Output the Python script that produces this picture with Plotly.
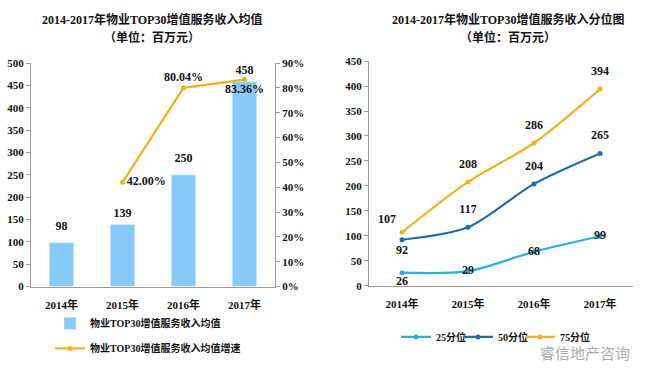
import plotly.graph_objects as go

years = ["2014年", "2015年", "2016年", "2017年"]
avg_income = [98, 139, 250, 458]
avg_growth = [None, 42.00, 80.04, 83.36]
p25 = [26, 29, 68, 99]
p50 = [92, 117, 204, 265]
p75 = [107, 208, 286, 394]

left_title = ["2014-2017年物业TOP30增值服务收入均值", "（单位：百万元）"]
right_title = ["2014-2017年物业TOP30增值服务收入分位图", "（单位：百万元）"]

FONT = "Liberation Serif, Noto Sans CJK SC"
W, H = 650, 371


def px_x(p):
    return p / W


def px_y(p):
    return 1 - p / H


def tfont(size=12):
    return dict(size=size, color="#111", family=FONT, weight="bold")


fig = go.Figure()

# bars
fig.add_trace(go.Bar(
    x=years, y=avg_income, name="物业TOP30增值服务收入均值",
    marker_color="#87CBF8", width=0.4,
    xaxis="x", yaxis="y", legend="legend", legendgroup="a",
))
# bar value labels (invisible marker sets the label offset)
fig.add_trace(go.Scatter(
    x=years, y=avg_income, mode="markers+text",
    marker=dict(size=[14, 6, 14, 6], opacity=0),
    text=[str(v) for v in avg_income], textposition="top center",
    textfont=tfont(12), cliponaxis=False, showlegend=False, hoverinfo="skip",
    xaxis="x", yaxis="y",
))
# growth line
fig.add_trace(go.Scatter(
    x=years, y=avg_growth, name="物业TOP30增值服务收入均值增速",
    mode="lines+markers+text", line=dict(color="#F0B022", width=2.2),
    marker=dict(size=5, color="#F0B022"),
    text=["" if v is None else f"{v:.2f}%" for v in avg_growth],
    textposition=["middle right", "middle right", "top center", "bottom center"],
    textfont=tfont(12), cliponaxis=False, xaxis="x", yaxis="y2",
    legend="legend", legendgroup="b",
))

series = [("25分位", p25, "#2AAFE2",
           ["bottom center", "middle center", "middle center", "middle center"],
           [4, 16, 16, 16], "legend2"),
          ("50分位", p50, "#1E6DAE",
           ["bottom center", "top center", "top center", "top center"],
           [6, 16, 16, 16], "legend3"),
          ("75分位", p75, "#F0B325",
           ["top left", "top center", "top center", "top center"],
           [8, 16, 16, 16], "legend4")]
for name, vals, col, pos, lsize, leg in series:
    fig.add_trace(go.Scatter(
        x=years, y=vals, name=name, mode="lines+markers",
        line=dict(color=col, width=2.2, shape="spline", smoothing=0.8),
        marker=dict(size=5, color=col),
        xaxis="x2", yaxis="y3", legend=leg,
    ))
    fig.add_trace(go.Scatter(
        x=years, y=vals, mode="markers+text",
        marker=dict(size=lsize, opacity=0),
        text=[str(v) for v in vals], textposition=pos,
        textfont=tfont(12), cliponaxis=False, showlegend=False,
        hoverinfo="skip", xaxis="x2", yaxis="y3",
    ))

axis_common = dict(showgrid=False, showline=True, linecolor="#9a9a9a",
                   linewidth=1, ticks="outside", ticklen=4, tickcolor="#9a9a9a",
                   tickfont=tfont(11), zeroline=False)
xaxis_common = {**axis_common, "ticks": "", "ticklabelstandoff": 8}

annotations = []
for lines, cx in ((left_title, 152), (right_title, 508)):
    for txt, cy in zip(lines, (14, 33)):
        annotations.append(dict(
            text=txt, x=px_x(cx), y=px_y(cy), xref="paper", yref="paper",
            xanchor="center", yanchor="middle", showarrow=False,
            font=tfont(12)))
annotations.append(dict(
    text="睿信地产咨询", x=px_x(632), y=px_y(358), xref="paper", yref="paper",
    xanchor="right", yanchor="middle", showarrow=False,
    font=dict(size=15, color="#ababab", family="Noto Sans CJK SC")))


def small_legend(xpx):
    return dict(orientation="h", x=px_x(xpx), y=px_y(327), xanchor="left",
                yanchor="top", itemwidth=30, font=tfont(10),
                bgcolor="rgba(0,0,0,0)")


fig.update_layout(
    width=W, height=H, margin=dict(l=0, r=0, t=0, b=0),
    paper_bgcolor="white", plot_bgcolor="white",
    font=dict(family=FONT, color="#111"),
    showlegend=True,
    xaxis=dict(domain=[px_x(31), px_x(275)], anchor="y", range=[-0.5, 3.5],
               **xaxis_common),
    yaxis=dict(domain=[px_y(290), px_y(59)], anchor="x", range=[0, 500],
               dtick=50, **axis_common),
    yaxis2=dict(overlaying="y", side="right", anchor="x", range=[0, 90],
                dtick=10, ticksuffix="%", **axis_common),
    xaxis2=dict(domain=[px_x(369), px_x(633)], anchor="y3", range=[-0.5, 3.5],
                **xaxis_common),
    yaxis3=dict(domain=[px_y(289), px_y(57)], anchor="x2", range=[0, 450],
                dtick=50, **axis_common),
    legend=dict(orientation="v", x=px_x(50), y=px_y(313), xanchor="left",
                yanchor="top", itemwidth=30, tracegroupgap=6,
                font=tfont(10), bgcolor="rgba(0,0,0,0)"),
    legend2=small_legend(396),
    legend3=small_legend(458),
    legend4=small_legend(520),
    annotations=annotations,
)

fig.write_html("out.html",
               config={"displayModeBar": False},
               post_script="document.body.style.margin='0';"
                           "document.body.style.overflow='hidden';")
